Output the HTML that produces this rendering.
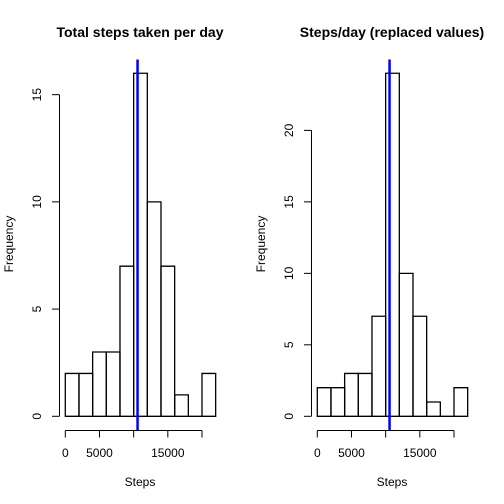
<!DOCTYPE html>
<html><head><meta charset="utf-8"><style>
body{margin:0;background:#fff}
svg{display:block;font-family:"Liberation Sans",Arial,sans-serif}
</style></head><body>
<svg id="c" width="504" height="504" viewBox="0 0 504 504"></svg>
<script>
const breaks=[0,2000,4000,6000,8000,10000,12000,14000,16000,18000,20000,22000];
const countsLeft=[2,2,3,3,7,16,10,7,1,0,2];
const countsRight=[2,2,3,3,7,24,10,7,1,0,2];
const meanLeft=10570;
const meanRight=10570;
const xTicks=[0,5000,10000,15000,20000];
const xTickLabels=["0","5000","","15000",""];
const yTicksLeft=[0,5,10,15];
const yTicksRight=[0,5,10,15,20];
const titles=["Total steps taken per day","Steps/day (replaced values)"];

const svg=document.getElementById('c');
const NS='http://www.w3.org/2000/svg';
function mk(tag,attrs,parent){const e=document.createElementNS(NS,tag);for(const k in attrs)e.setAttribute(k,attrs[k]);(parent||svg).appendChild(e);return e;}

function panel(off,counts,mean,yTicks,title,idx){
  const g=mk('g',{});
  
  
  const ymax=Math.max(...counts);
  const top=59.5,y0=416.3,k=(y0-top)/(ymax*1.04);
  const xs=v=>off+65.3+v*0.006835;
  const ys=v=>y0-v*k;
  for(let i=0;i<counts.length;i++){
    const x1=xs(breaks[i]),x2=xs(breaks[i+1]),y=ys(counts[i]);
    const r=mk('path',{d:`M${x1},${y0}L${x1},${y}L${x2},${y}L${x2},${y0}Z`,fill:'none',stroke:'#000','stroke-width':1.3},g);
    
    
  }
  const ml=mk('line',{x1:xs(mean),x2:xs(mean),y1:top,y2:430,stroke:'#0000ff','stroke-width':2.5},g);
  
  
  const xa=mk('g',{},g);
  
  
  mk('line',{x1:xs(xTicks[0]),x2:xs(xTicks[xTicks.length-1]),y1:430.5,y2:430.5,stroke:'#000'},xa);
  xTicks.forEach((t,i)=>{
    mk('line',{x1:xs(t),x2:xs(t),y1:430.5,y2:437.5,stroke:'#000'},xa);
    if(xTickLabels[i]){const tx=mk('text',{x:xs(t),y:457,'text-anchor':'middle','font-size':12},xa);tx.textContent=xTickLabels[i];}
  });
  const xl=mk('text',{x:off+140,y:486,'text-anchor':'middle','font-size':12},g);xl.textContent='Steps';
  
  
  const ya=mk('g',{},g);
  
  
  const ax=off+59.5;
  mk('line',{x1:ax,x2:ax,y1:ys(yTicks[0]),y2:ys(yTicks[yTicks.length-1]),stroke:'#000'},ya);
  yTicks.forEach(t=>{
    mk('line',{x1:ax-7.5,x2:ax,y1:ys(t),y2:ys(t),stroke:'#000'},ya);
    const tx=mk('text',{x:off+41,y:ys(t),'text-anchor':'middle','font-size':12,transform:`rotate(-90 ${off+41} ${ys(t)})`},ya);tx.textContent=t;
  });
  const yl=mk('text',{x:off+13,y:244,'text-anchor':'middle','font-size':12,transform:`rotate(-90 ${off+13} 244)`},g);yl.textContent='Frequency';
  
  
  const tt=mk('text',{x:off+140,y:37,'text-anchor':'middle','font-size':14,'font-weight':'bold'},g);tt.textContent=title;
  
  
}
panel(0,countsLeft,meanLeft,yTicksLeft,titles[0],0);
panel(252,countsRight,meanRight,yTicksRight,titles[1],1);
</script>
</body></html>
